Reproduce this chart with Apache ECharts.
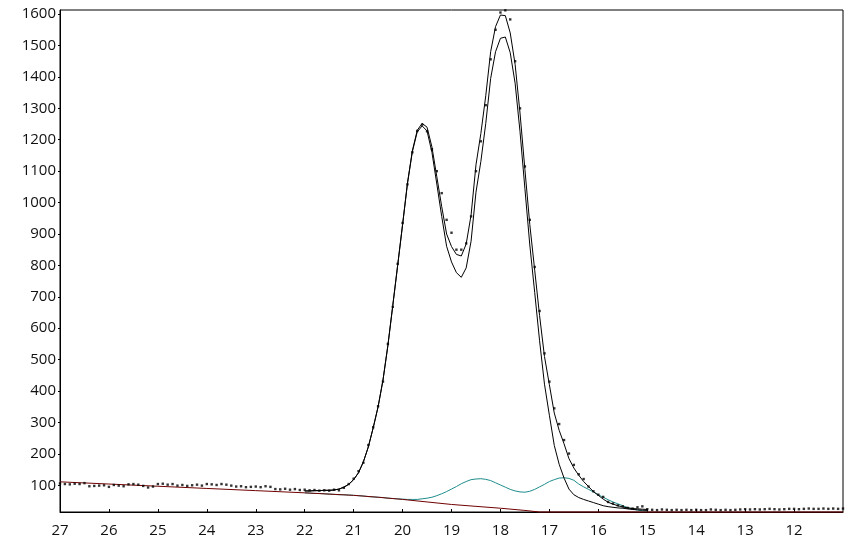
<!DOCTYPE html>
<html><head><meta charset="utf-8">
<script src="https://cdn.jsdelivr.net/npm/echarts@6/dist/echarts.min.js"></script>
<style>html,body{margin:0;padding:0;background:#fff}#c{width:853px;height:540px}</style>
</head><body><div id="c"></div>
<script>
const yTicks = [100,200,300,400,500,600,700,800,900,1000,1100,1200,1300,1400,1500,1600];

const curveX = [22.0,21.9,21.8,21.7,21.6,21.5,21.4,21.3,21.2,21.1,
  21.0,20.9,20.8,20.7,20.6,20.5,20.4,20.3,20.2,20.1,
  20.0,19.9,19.8,19.7,19.6,19.5,19.4,19.3,19.2,19.1,
  19.0,18.9,18.8,18.7,18.6,18.5,18.4,18.3,18.2,18.1,
  18.0,17.9,17.8,17.7,17.6,17.5,17.4,17.3,17.2,17.1,
  17.0,16.9,16.8,16.7,16.6,16.5,16.4,16.3,16.2,16.1,
  16.0,15.9,15.8,15.7,15.6,15.5,15.4,15.3,15.2,15.1,
  15.0];

const fitTotal = [82,82,83,83,84,84,85,88,94,103,
  118,140,175,222,283,350,435,545,672,800,
  930,1062,1165,1230,1252,1240,1177,1082,987,900,
  860,835,830,868,960,1120,1220,1340,1480,1560,
  1597,1595,1540,1440,1285,1105,930,785,640,510,
  420,330,275,232,185,155,132,112,96,80,
  68,56,46,40,35,31,28,26,25,24,
  23];

const fitPeaks = [82,82,83,83,84,84,85,88,94,103,
  118,140,175,222,283,350,435,545,672,800,
  929,1060,1162,1225,1244,1228,1160,1059,956,861,
  811,777,762,792,877,1033,1131,1252,1395,1480,
  1523,1527,1477,1380,1226,1044,865,714,560,422,
  323,227,167,123,88,70,61,55,50,45,
  40,35,32,30,28,27,25,23,22,21,
  20];

const fitMinor = [76,75,74,74,73,72,71,70,70,69,
  68,67,66,64,63,62,61,59,58,57,
  56,55,55,55,57,59,62,67,73,80,
  88,96,105,112,118,120,121,119,115,108,
  101,94,87,82,79,78,81,87,95,103,
  112,118,123,124,122,116,104,95,87,79,
  70,62,54,47,41,35,29,25,21,19,
  17];

const baseX = [27,26,25,24,23,22,21,20.5,20,19.5,19,18.5,18,17.5,17.2,11];
const baseY = [111,104,97,90,83,76,68,62,55,47,39,33,27,20,15,15];

const dotsX = [27.0,26.9,26.8,26.7,26.6,26.5,26.4,26.3,26.2,26.1,
  26.0,25.9,25.8,25.7,25.6,25.5,25.4,25.3,25.2,25.1,
  25.0,24.9,24.8,24.7,24.6,24.5,24.4,24.3,24.2,24.1,
  24.0,23.9,23.8,23.7,23.6,23.5,23.4,23.3,23.2,23.1,
  23.0,22.9,22.8,22.7,22.6,22.5,22.4,22.3,22.2,22.1,
  22.0,21.9,21.8,21.7,21.6,21.5,21.4,21.3,21.2,21.1,
  21.0,20.9,20.8,20.7,20.6,20.5,20.4,20.3,20.2,20.1,
  20.0,19.9,19.8,19.7,19.6,19.5,19.4,19.3,19.2,19.1,
  19.0,18.9,18.8,18.7,18.6,18.5,18.4,18.3,18.2,18.1,
  18.0,17.9,17.8,17.7,17.6,17.5,17.4,17.3,17.2,17.1,
  17.0,16.9,16.8,16.7,16.6,16.5,16.4,16.3,16.2,16.1,
  16.0,15.9,15.8,15.7,15.6,15.5,15.4,15.3,15.2,15.1,
  15.0,14.9,14.8,14.7,14.6,14.5,14.4,14.3,14.2,14.1,
  14.0,13.9,13.8,13.7,13.6,13.5,13.4,13.3,13.2,13.1,
  13.0,12.9,12.8,12.7,12.6,12.5,12.4,12.3,12.2,12.1,
  12.0,11.9,11.8,11.7,11.6,11.5,11.4,11.3,11.2,11.1,11.0];

const dotsY = [106,104,103,105,104,107,97,98,99,100,
  95,101,99,97,103,104,102,98,93,96,
  104,105,102,104,99,101,98,100,102,99,
  104,103,101,104,102,99,96,97,94,95,
  96,94,97,95,88,87,89,86,88,85,
  86,84,85,83,84,83,86,84,92,104,
  121,145,172,228,285,352,430,550,668,805,
  935,1058,1160,1228,1248,1227,1170,1100,1030,945,
  904,850,850,870,956,1100,1195,1310,1456,1550,
  1605,1612,1583,1450,1300,1115,945,795,655,520,
  430,345,295,244,201,165,135,120,96,81,
  70,63,47,42,36,33,28,26,30,33,
  24,22,21,23,22,21,22,21,22,21,
  22,21,21,23,22,21,22,21,22,23,
  24,23,24,23,24,25,24,23,24,25,
  25,24,25,26,25,25,26,25,26,25,26];

const zip = (xs, ys) => xs.map((x, i) => [x, ys[i]]);
const font = 'Open Sans';

const chart = echarts.init(document.getElementById('c'), null, {renderer: 'canvas'});
chart.setOption({
  animation: false,
  grid: {left: 60, right: 10, top: 10, bottom: 28, show: true, borderColor: '#000', borderWidth: 1, backgroundColor: 'transparent'},
  xAxis: {
    type: 'value', inverse: true, min: 11, max: 27, interval: 1,
    axisLine: {show: true, onZero: false, lineStyle: {color: '#000', width: 1}},
    axisTick: {show: true, inside: true, length: 3, lineStyle: {color: '#000'}},
    axisLabel: {showMinLabel: false, showMaxLabel: true, color: '#111', fontSize: 15, fontFamily: font, margin: 11,
      formatter: v => String(v)},
    splitLine: {show: false}
  },
  yAxis: {
    type: 'value', min: 15, max: 1613,
    axisLine: {show: true, onZero: false, lineStyle: {color: '#000', width: 1}},
    axisTick: {show: true, length: 2, customValues: yTicks, lineStyle: {color: '#000'}},
    axisLabel: {customValues: yTicks, color: '#111', fontSize: 15, fontFamily: font, margin: 4,
      formatter: v => String(v)},
    splitLine: {show: false}
  },
  series: [
    {type: 'line', data: zip(curveX, fitMinor), symbol: 'none', lineStyle: {color: '#1f8c8c', width: 1}, z: 2},
    {type: 'line', data: zip(curveX, fitPeaks), symbol: 'none', lineStyle: {color: '#000', width: 1}, z: 3},
    {type: 'line', data: zip(curveX, fitTotal), symbol: 'none', lineStyle: {color: '#000', width: 1}, z: 3},
    {type: 'line', data: zip(baseX, baseY), symbol: 'none', clip: false, lineStyle: {color: '#700000', width: 1}, z: 4},
    {type: 'scatter', data: zip(dotsX, dotsY), symbol: 'rect', symbolSize: 2.4, itemStyle: {color: '#000'}, z: 5}
  ]
});
</script>
</body></html>
